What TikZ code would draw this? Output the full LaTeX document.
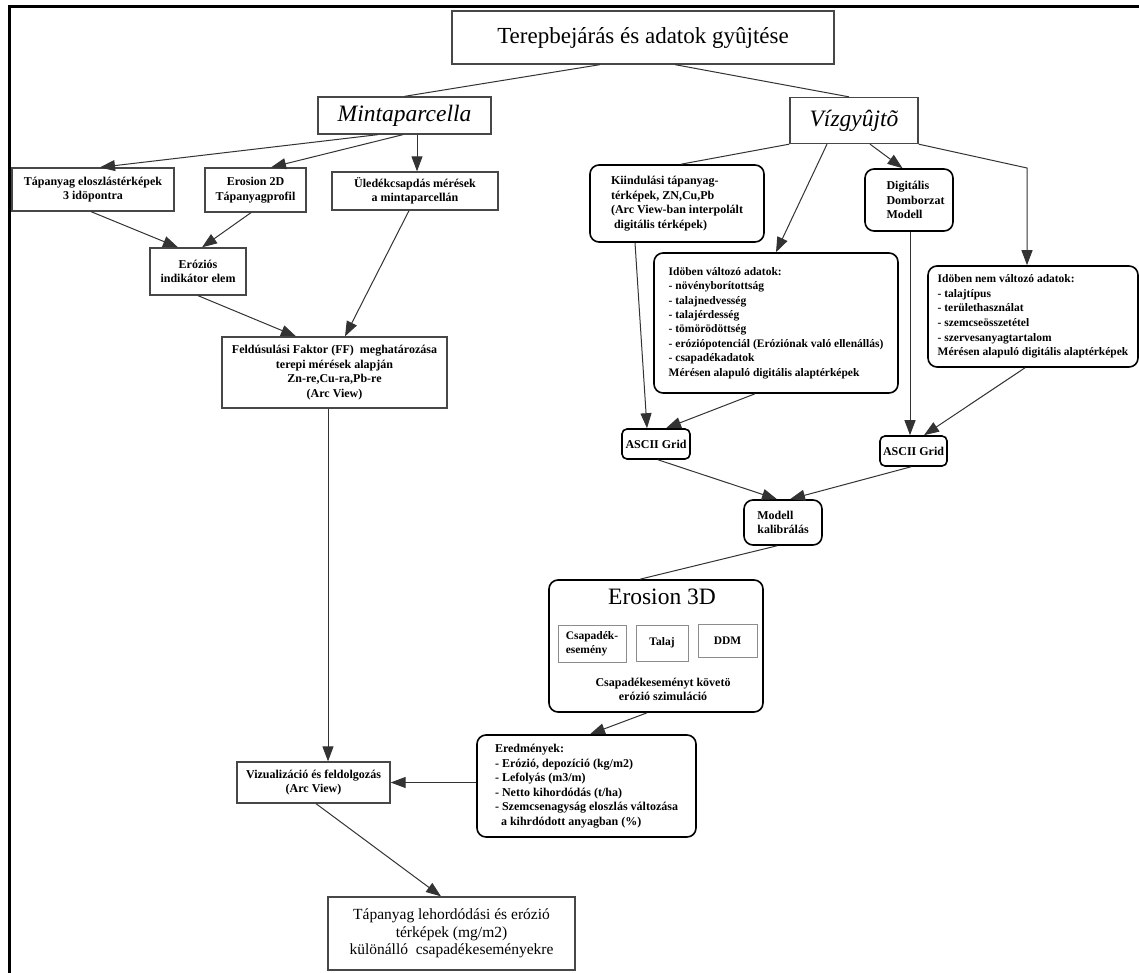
\documentclass[tikz,border=0pt]{standalone}
\usepackage{fontspec}
\setmainfont{Liberation Serif}
\usetikzlibrary{arrows.meta,calc}
\begin{document}
\begin{tikzpicture}[x=1pt,y=-1pt,
  sbox/.style={draw=black!72,line width=1.3pt,fill=white,inner sep=2pt,align=center,
    font=\fontsize{12}{14.5}\selectfont\bfseries},
  rbox/.style={draw=black,line width=1.6pt,fill=white,inner sep=2pt,align=left,rounded corners=9pt,
    font=\fontsize{12}{14.5}\selectfont\bfseries},
  ibox/.style={draw=black!45,line width=0.9pt,fill=white,inner sep=1pt,align=left,
    font=\fontsize{11.5}{14}\selectfont\bfseries},
  conn/.style={draw=black!80,line width=1pt},
  arr/.style={conn,-{Triangle[length=15pt,width=11pt]}}
]
\useasboundingbox (0,0) rectangle (1139,973);
\fill[white] (0,0) rectangle (1139,973);
% frame
\draw[line width=3pt] (9,973) -- (9,6.5) -- (1139,6.5);

% top
\node[sbox,font=\fontsize{23}{26}\selectfont,minimum width=382pt,minimum height=53pt] (terep) at (643,37.5) {Terepbejárás és adatok gyûjtése};
\node[sbox,font=\fontsize{23.5}{26}\selectfont\itshape,minimum width=173pt,minimum height=37pt] (mint) at (404.5,115.5) {Mintaparcella};
\node[sbox,font=\fontsize{23.5}{26}\selectfont\itshape,minimum width=128pt,minimum height=46pt] (viz) at (854,120.5) {Vízgyûjtõ};

% left branch
\node[sbox,minimum width=162pt,minimum height=43pt] (tap1) at (93,189.5) {Tápanyag eloszlástérképek\\3 idöpontra};
\node[sbox,minimum width=101pt,minimum height=44pt] (e2d) at (255.5,190) {Erosion 2D\\Tápanyagprofil};
\node[sbox,minimum width=166pt,minimum height=38pt] (uled) at (415,191) {Üledékcsapdás mérések\\a mintaparcellán};
\node[sbox,minimum width=96pt,minimum height=47pt] (eroz) at (198,271.5) {Eróziós\\indikátor elem};
\node[sbox,minimum width=225pt,minimum height=71pt] (ff) at (334.5,372.5) {Feldúsulási Faktor (FF)\ \ meghatározása\\terepi mérések alapján\\Zn-re,Cu-ra,Pb-re\\(Arc View)};
\node[sbox,minimum width=153pt,minimum height=41pt] (vis) at (313.5,782.5) {Vizualizáció és feldolgozás\\(Arc View)};
\node[sbox,font=\fontsize{15.5}{17.5}\selectfont,minimum width=247pt,minimum height=73pt] (tapl) at (451.5,933.5) {Tápanyag lehordódási és erózió\\térképek (mg/m2)\\különálló\ \ csapadékeseményekre};

% right branch
\node[rbox,minimum width=174pt,minimum height=77pt] (kiind) at (677,203.5) {Kiindulási tápanyag-\\térképek, ZN,Cu,Pb\\(Arc View-ban interpolált\\\ digitális térképek)};
\node[rbox,inner xsep=21pt,text width=45pt,minimum width=88pt,minimum height=62pt] (digi) at (909,200) {Digitális\\Domborzat\\Modell};
\node[rbox,font=\fontsize{11.5}{14.4}\selectfont\bfseries,minimum width=244pt,minimum height=140pt] (valt) at (776,323) {Idöben változó adatok:\\- növényborítottság\\- talajnedvesség\\- talajérdesség\\- tömörödöttség\\- eróziópotenciál (Eróziónak való ellenállás)\\- csapadékadatok\\Mérésen alapuló digitális alaptérképek};
\node[rbox,font=\fontsize{11.5}{14.6}\selectfont\bfseries,minimum width=210pt,minimum height=101pt] (nem) at (1033,316.5) {Idöben nem változó adatok:\\- talajtípus\\- területhasználat\\- szemcseösszetétel\\- szervesanyagtartalom\\Mérésen alapuló digitális alaptérképek};
\node[rbox,rounded corners=5pt,minimum width=68pt,minimum height=30pt] (asc1) at (656,444) {ASCII Grid};
\node[rbox,rounded corners=5pt,minimum width=67pt,minimum height=30pt] (asc2) at (913.5,451) {ASCII Grid};
\node[rbox,minimum width=78pt,minimum height=45pt] (mod) at (783,522.5) {Modell\\kalibrálás};

% Erosion 3D
\node[rbox,minimum width=214pt,minimum height=132pt] (e3d) at (656,646) {};
\node[font=\fontsize{23.5}{26}\selectfont,inner sep=0pt] (e3dt) at (662,597) {Erosion 3D};
\node[ibox,minimum width=68pt,minimum height=37pt] (cs) at (592,643.5) {Csapadék-\\esemény};
\node[ibox,minimum width=52pt,minimum height=36pt] (talaj) at (662,643) {Talaj};
\node[ibox,minimum width=59pt,minimum height=33pt] (ddm) at (727.5,640.5) {DDM};
\node[font=\fontsize{12}{14.5}\selectfont\bfseries,align=center,inner sep=0pt] (e3dc) at (663,689.5) {Csapadékeseményt követö\\erózió szimuláció};

\node[rbox,minimum width=219pt,minimum height=102pt] (ered) at (586.5,786) {Eredmények:\\- Erózió, depozíció (kg/m2)\\- Lefolyás (m3/m)\\- Netto kihordódás (t/ha)\\- Szemcsenagyság eloszlás változása\\\hspace*{6pt}a kihrdódott anyagban (\%)};

% connectors
\draw[conn] ([xshift=-43pt]terep.south) -- (mint.north);
\draw[conn] ([xshift=32pt]terep.south) -- ([xshift=-5pt]viz.north);
\draw[arr] ([xshift=-26.5pt]mint.south) -- ([xshift=7pt]tap1.north);
\draw[arr] ([xshift=-1.5pt]mint.south) -- ([xshift=15.5pt]e2d.north);
\draw[arr] ([xshift=12.5pt]mint.south) -- ([xshift=12.5pt]mint.south |- uled.north);
\draw[arr] ([xshift=-2pt]tap1.south) -- ([xshift=-20pt]eroz.north);
\draw[arr] ([xshift=-4.5pt]e2d.south) -- ([xshift=4pt]eroz.north);
\draw[arr] ([xshift=-6pt]uled.south) -- ([xshift=10.5pt]ff.north);
\draw[arr] (eroz.south) -- ([xshift=-38.5pt]ff.north);
\draw[arr] ([xshift=-6.5pt]ff.south) -- ([xshift=-6.5pt]ff.south |- vis.north);
\draw[arr] (ered.west |- vis.east) -- (vis.east);
\draw[arr] ([xshift=2.5pt]vis.south) -- ([xshift=-10.5pt]tapl.north);
\draw[conn] (viz.south west) -- ([xshift=4pt]kiind.north);
\draw[arr] ([xshift=-27pt]viz.south) -- (valt.north);
\draw[arr] ([xshift=16pt]viz.south) -- ([xshift=-6.5pt]digi.north);
\coordinate (bend) at (1027,168);
\draw[arr] (viz.south east) -- (bend) -- (bend |- nem.north);
\draw[arr] ([xshift=-42pt]kiind.south) -- ([xshift=-9pt]asc1.north);
\draw[arr] ([xshift=-21pt]valt.south) -- ([xshift=10pt]asc1.north);
\draw[arr] ([xshift=1pt]digi.south) -- ([xshift=1pt]digi.south |- asc2.north);
\draw[arr] ([xshift=-8pt]nem.south) -- ([xshift=10.5pt]asc2.north);
\draw[arr] ([xshift=2pt]asc1.south) -- ([xshift=-6pt]mod.north);
\draw[arr] ([xshift=-2.5pt]asc2.south) -- ([xshift=7pt]mod.north);
\draw[conn] ([xshift=-6pt]mod.south) -- ([xshift=-16pt]e3d.north);
\draw[arr] ([xshift=-9pt]e3d.south) -- ([xshift=3.5pt]ered.north);
\end{tikzpicture}
\end{document}
